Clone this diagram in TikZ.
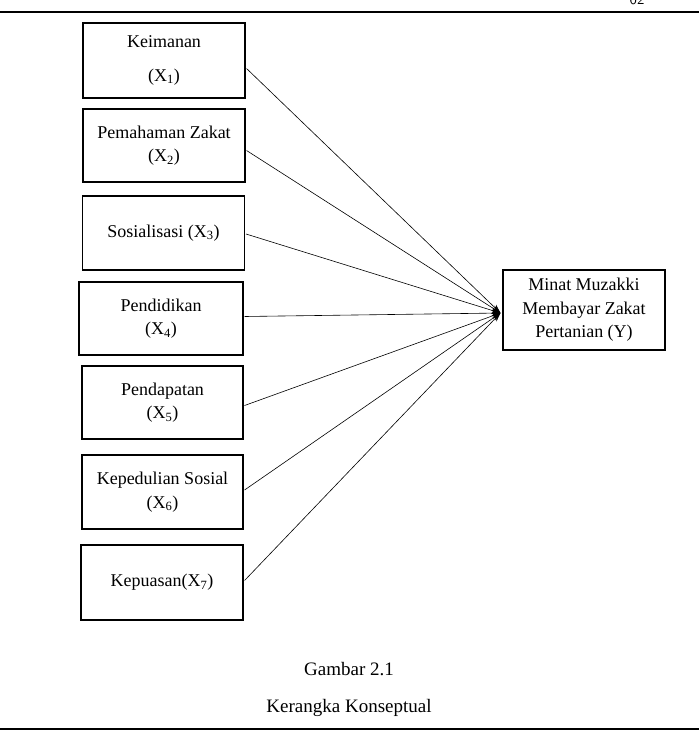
\documentclass[tikz,border=0pt]{standalone}
\usepackage{fontspec}
\setmainfont{Liberation Serif}
\usetikzlibrary{arrows.meta,calc}
\begin{document}
\begin{tikzpicture}[x=1pt,y=-1pt,
  varbox/.style={draw,line width=1.1pt,minimum width=162pt,minimum height=74pt,align=center,font=\fontsize{18}{23.5}\selectfont,inner sep=0pt},
  conn/.style={line width=0.6pt,-{Stealth[length=9pt,width=6pt]}},
  rulestyle/.style={line width=1.6pt},
  captext/.style={font=\fontsize{19}{20}\selectfont}]
\useasboundingbox (0,0) rectangle (699,732);
\fill[white] (0,0) rectangle (699,732);
\clip (0,0) rectangle (699,732);
\node[font=\sffamily\fontsize{15}{15}\selectfont] (pg) at (637,0) {62};
\coordinate (tl) at (0,12);
\coordinate (tr) at (699,12);
\draw[rulestyle] (tl) -- (tr);
\coordinate (bl) at (0,729);
\coordinate (br) at (699,729);
\draw[rulestyle] (bl) -- (br);

\node[varbox,minimum height=75pt] (b1) at (164,60.5) {Keimanan\\[10pt](X\textsubscript{1})};
\node[varbox,minimum height=73pt] (b2) at (164,145.5) {Pemahaman Zakat\\(X\textsubscript{2})};
\node[varbox] (b3) at (163.5,233) {Sosialisasi (X\textsubscript{3})};
\node[varbox,minimum width=164pt,minimum height=73pt] (b4) at (161,318.5) {Pendidikan\\(X\textsubscript{4})};
\node[varbox,minimum width=161pt,minimum height=73pt] (b5) at (162.5,402.5) {Pendapatan\\(X\textsubscript{5})};
\node[varbox,minimum width=161pt] (b6) at (162.5,492) {Kepedulian Sosial\\(X\textsubscript{6})};
\node[varbox,minimum height=75pt] (b7) at (162,582.5) {Kepuasan(X\textsubscript{7})};
\node[varbox,minimum width=162pt,minimum height=80pt] (y) at (584,310) {Minat Muzakki\\Membayar Zakat\\Pertanian (Y)};

\coordinate (t) at ($(y.west)+(-2,3)$);
\draw[conn] ($(b1.east)+(1,8)$) -- (t);
\draw[conn] ($(b2.east)+(1,5)$) -- (t);
\draw[conn] ($(b3.east)+(1,1)$) -- (t);
\draw[conn] ($(b4.east)+(1,-2)$) -- (t);
\draw[conn] ($(b5.east)+(1,3)$) -- (t);
\draw[conn] ($(b6.east)+(1,-2)$) -- (t);
\draw[conn] ($(b7.east)+(1,-2)$) -- (t);

\node[captext] (c1) at (349,669) {Gambar 2.1};
\node[captext] (c2) at (349,708) {Kerangka Konseptual};
\end{tikzpicture}
\end{document}
